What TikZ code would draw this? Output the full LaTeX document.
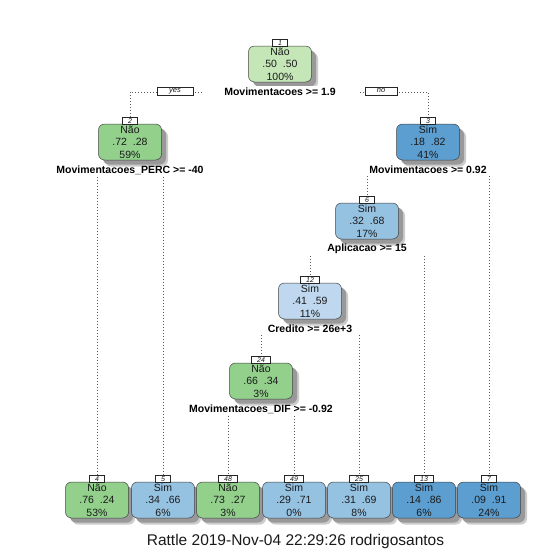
\documentclass[tikz,border=0pt]{standalone}
\usepackage{fontspec}
\setmainfont{Liberation Sans}
\usetikzlibrary{shadows,backgrounds}
\definecolor{greenL}{HTML}{C5E7B8}
\definecolor{greenM}{HTML}{92D08C}
\definecolor{blueD}{HTML}{5C9ED0}
\definecolor{blueM}{HTML}{96C2E2}
\definecolor{blueL}{HTML}{BFD8EF}
\definecolor{ink}{HTML}{1A1A1A}
\begin{document}
\begin{tikzpicture}[x=1pt,y=-1pt,
  treenode/.style={rounded corners=6pt, draw=black!75, line width=0.5pt,
    minimum width=63pt, minimum height=36pt, inner sep=0pt, align=center,
    text=ink, font=\fontsize{10.5}{12.3}\selectfont,
    drop shadow={shadow xshift=6.5pt, shadow yshift=-6.5pt, fill=black!20, opacity=1},
    drop shadow={shadow xshift=4.5pt, shadow yshift=-4.5pt, fill=black!40, opacity=1}},
  tag/.style={draw=black!85, fill=white, line width=0.4pt, inner xsep=5.5pt, inner ysep=0pt,
    minimum height=7.5pt, font=\fontsize{7}{7}\selectfont\itshape, text=ink},
  split/.style={font=\fontsize{10.5}{12}\selectfont\bfseries, text=black, inner sep=2pt},
  yesno/.style={draw=black!85, fill=white, line width=0.4pt, inner sep=0pt,
    minimum height=8pt, font=\fontsize{7.5}{8}\selectfont\itshape, text=ink},
  branch/.style={draw=black!65, line width=0.6pt, dash pattern=on 0.7pt off 2.3pt}
]
\useasboundingbox (0,0) rectangle (555,555);

% internal nodes
\node[treenode, fill=greenL] (n1) at (280,64) {Não\\.50\ \ .50\\100\%};
\node[treenode, fill=greenM] (n2) at (130,142) {Não\\.72\ \ .28\\59\%};
\node[treenode, fill=blueD] (n3) at (428,142) {Sim\\.18\ \ .82\\41\%};
\node[treenode, fill=blueM] (n6) at (367,221) {Sim\\.32\ \ .68\\17\%};
\node[treenode, fill=blueL] (n12) at (310,301) {Sim\\.41\ \ .59\\11\%};
\node[treenode, fill=greenM] (n24) at (261,381) {Não\\.66\ \ .34\\3\%};

% leaves
\node[treenode, fill=greenM] (n4) at (97,500) {Não\\.76\ \ .24\\53\%};
\node[treenode, fill=blueM] (n5) at (163,500) {Sim\\.34\ \ .66\\6\%};
\node[treenode, fill=greenM] (n48) at (228,500) {Não\\.73\ \ .27\\3\%};
\node[treenode, fill=blueM] (n49) at (294,500) {Sim\\.29\ \ .71\\0\%};
\node[treenode, fill=blueM] (n25) at (359,500) {Sim\\.31\ \ .69\\8\%};
\node[treenode, fill=blueD] (n13) at (424,500) {Sim\\.14\ \ .86\\6\%};
\node[treenode, fill=blueD] (n7) at (489,500) {Sim\\.09\ \ .91\\24\%};

% number tags
\foreach \n in {1,2,3,6,12,24,4,5,48,49,25,13,7}{
  \node[tag] (t\n) at ([yshift=3pt]n\n.north) {\n};
}

% split labels
\node[split, fill=white, inner xsep=22pt] (l1) at (280,92) {Movimentacoes >= 1.9};
\node[split] (l2) at (130,170) {Movimentacoes\_PERC >= -40};
\node[split] (l3) at (428,170) {Movimentacoes >= 0.92};
\node[split] (l6) at (367,249) {Aplicacao >= 15};
\node[split] (l12) at (310,329) {Credito >= 26e+3};
\node[split] (l24) at (261,409) {Movimentacoes\_DIF >= -0.92};

% yes / no
\node[yesno, minimum width=36pt] (yes) at (175,91) {yes};
\node[yesno, minimum width=32pt] (no) at (381,91) {no};

% caption
\node[font=\fontsize{15.5}{18}\selectfont, text=ink] (cap) at (295.5,541) {Rattle 2019-Nov-04 22:29:26 rodrigosantos};

\begin{scope}[on background layer]
\fill[white] (0,0) rectangle (555,555);
\draw[branch] (t2.north) -- (t2.north |- l1.center) -- (t3.north |- l1.center) -- (t3.north);
\draw[branch] (l2.south -| t4.north) -- (t4.north);
\draw[branch] (l2.south -| t5.north) -- (t5.north);
\draw[branch] (l3.south -| t6.north) -- (t6.north);
\draw[branch] (l3.south -| t7.north) -- (t7.north);
\draw[branch] (l6.south -| t12.north) -- (t12.north);
\draw[branch] (l6.south -| t13.north) -- (t13.north);
\draw[branch] (l12.south -| t24.north) -- (t24.north);
\draw[branch] (l12.south -| t25.north) -- (t25.north);
\draw[branch] (l24.south -| t48.north) -- (t48.north);
\draw[branch] (l24.south -| t49.north) -- (t49.north);
\end{scope}
\end{tikzpicture}
\end{document}
